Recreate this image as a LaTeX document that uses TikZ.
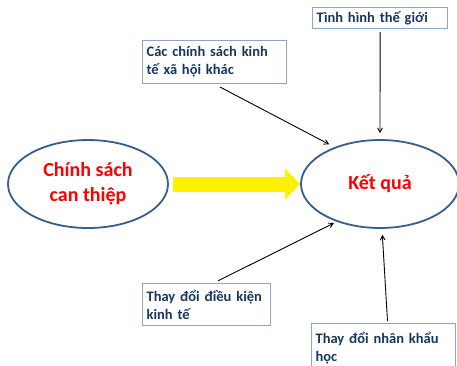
\documentclass[tikz,border=0pt]{standalone}
\usepackage{fontspec}
\setmainfont{Carlito}
\usepackage{xcolor}
\usepackage{tikz}
\usetikzlibrary{arrows,arrows.meta,shapes.geometric}

\definecolor{navytext}{RGB}{23,55,94}
\definecolor{ellline}{RGB}{56,93,138}
\definecolor{boxline}{RGB}{140,165,200}

\tikzset{
	oval/.style={ellipse,draw=ellline,line width=1.8pt,minimum width=160pt,minimum height=88pt,
		text=red,font=\bfseries\fontsize{20}{25}\selectfont,align=center},
	infobox/.style={rectangle,draw=boxline,line width=1.2pt,anchor=north west,inner xsep=4pt,
		inner ysep=4pt,text=navytext,font=\bfseries\fontsize{14.5}{18}\selectfont,align=left},
}

\begin{document}
\begin{tikzpicture}[x=1pt,y=-1pt]
		\useasboundingbox (0,0) rectangle (457,365);
		\clip (0,0) rectangle (457,365);
		% ellipses
		\node[oval] (CS) at (88,184) {Chính sách\\can thiệp};
		\node[oval,minimum width=158pt] (KQ) at (380,184) {Kết quả};
		% boxes
		\node[infobox,text width=136pt,minimum height=43pt] (KT) at (142,40) {Các chính sách kinh\\tế xã hội khác};
		\node[infobox,text width=127pt,minimum height=21pt,inner ysep=2pt] (TG) at (312,7) {Tình hình thế giới};
		\node[infobox,text width=120pt,minimum height=42pt] (DK) at (142,283) {Thay đổi điều kiện\\kinh tế};
		\node[infobox,text width=136pt,minimum height=48pt] (NK) at (311,323) {Thay đổi nhân khẩu\\học};
		%
		% yellow arrow
		\draw[yellow,line width=15pt,shorten <=4pt,-{Triangle[width=30pt,length=15pt]}] (CS.east) -- (KQ.west);
		%
		\path[->,>=angle 60,line width=0.9pt,shorten >=6pt]
		% upper arrows
		(KT.south) edge[shorten <=6pt] (KQ.141)
		(TG.south) edge[shorten <=3pt] (KQ.north)
		% lower arrows
		([xshift=7pt]DK.north) edge[shorten <=5pt,shorten >=3pt] (KQ.221)
		([xshift=4pt]NK.north) edge[shorten <=2pt] ([xshift=2pt]KQ.south);
	\end{tikzpicture}
\end{document}
